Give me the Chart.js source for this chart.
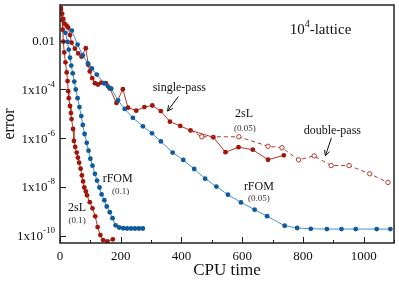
<!DOCTYPE html>
<html lang="en">
<head>
<meta charset="utf-8" />
<title>error vs CPU time</title>
<script src="https://cdn.jsdelivr.net/npm/chart.js"></script>
<style>
  body { margin: 0; background: #fff; }
  #chart { display: block; }
</style>
</head>
<body>
<canvas id="chart" width="399" height="282"></canvas>
<script>
// rFOM (0.1)
const rfomFastX = [18, 25, 29, 33, 37, 42, 47, 52, 58, 64, 70, 75, 81, 88, 94, 100, 107, 115, 122, 130, 137, 146, 154, 164, 173, 183, 195, 208, 221, 234, 247, 260, 273];
const rfomFastY = [2.1e-2, 9e-3, 4.3e-3, 2.0e-3, 9.5e-4, 4.6e-4, 2.1e-4, 1.0e-4, 4.4e-5, 1.9e-5, 8.1e-6, 3.5e-6, 1.5e-6, 6.5e-7, 3.1e-7, 1.45e-7, 7.5e-8, 3.5e-8, 1.85e-8, 9.6e-9, 5e-9, 2.9e-9, 1.6e-9, 9.3e-10, 5.3e-10, 2.7e-10, 2.2e-10, 2.05e-10, 2.0e-10, 2.0e-10, 2.0e-10, 2.0e-10, 2.0e-10];

// 2sL (0.1)
const tslFastX = [3, 7, 9, 11, 14, 18, 22, 25, 27, 29, 33, 36, 38, 43, 46, 50, 55, 59, 63, 68, 72, 76, 80, 85, 89, 98, 107, 116, 124, 133, 142, 156, 174];
const tslFastY = [0.18, 0.071, 0.028, 9.1e-3, 3.3e-3, 1.3e-3, 5.0e-4, 2.2e-4, 8.5e-5, 4.4e-5, 2.1e-5, 1.08e-5, 6.1e-6, 2.4e-6, 7.8e-7, 4.4e-7, 2.6e-7, 1.6e-7, 1.0e-7, 5.7e-8, 3.0e-8, 1.7e-8, 9.6e-9, 6.6e-9, 4.6e-9, 2.4e-9, 1.35e-9, 6.3e-10, 2.3e-10, 1.08e-10, 6.7e-11, 5.9e-11, 7.2e-11];

// rFOM (0.05)
const rfomSlowX = [39, 58, 75, 92, 105, 121, 145, 158, 169, 191, 213, 240, 273, 303, 332, 371, 406, 442, 478, 515, 553, 596, 641, 682, 740, 781, 826, 879, 927, 974, 1043, 1088];
const rfomSlowY = [0.026, 6.9e-3, 2.5e-3, 1.17e-3, 7.3e-4, 4.1e-4, 1.8e-4, 1.35e-4, 1.07e-4, 3.6e-5, 1.6e-5, 6.9e-6, 3.1e-6, 1.6e-6, 7.4e-7, 2.6e-7, 1.29e-7, 5.5e-8, 2.2e-8, 1.05e-8, 4.9e-9, 2.35e-9, 1.18e-9, 6.4e-10, 2.6e-10, 2.1e-10, 1.95e-10, 1.9e-10, 1.9e-10, 1.9e-10, 1.9e-10, 1.9e-10];

// 2sL (0.05), single-pass
const singleX = [3, 7, 11, 15, 22, 27, 33, 38, 49, 60, 71, 85, 93, 98, 106, 115, 125, 136, 151, 164, 186, 207, 224, 251, 278, 304, 332, 362, 396, 430, 505, 545, 588, 635, 685, 737];
const singleY = [0.22, 0.126, 0.078, 0.05, 0.041, 0.034, 0.017, 8.3e-3, 4.7e-3, 3.0e-3, 2.2e-3, 4.9e-3, 1.03e-3, 5.5e-4, 2.9e-4, 1.8e-4, 1.6e-4, 1.9e-4, 1.8e-4, 1.1e-4, 2.8e-5, 1.02e-4, 1.8e-5, 1.35e-5, 1.9e-5, 2.2e-5, 1.3e-5, 4.8e-6, 3.2e-6, 2.1e-6, 1.1e-6, 2.7e-7, 4.3e-7, 3.4e-7, 1.32e-7, 2.0e-7];

// 2sL (0.05), double-pass (starts from the last shared point)
const doubleX = [430, 467, 589, 685, 731, 786, 837, 893, 952, 1020, 1080];
const doubleY = [2.1e-6, 1.15e-6, 1.15e-6, 4.7e-7, 4.1e-7, 1.3e-7, 1.9e-7, 7.6e-8, 7.6e-8, 3.5e-8, 1.55e-8];

const xTicks = [0, 200, 400, 600, 800, 1000];
const xMinorTicks = [100, 300, 500, 700, 900, 1100];
const yTicks = [1e-2, 1e-4, 1e-6, 1e-8, 1e-10];
const yTickBase = ["0.01", "1x10", "1x10", "1x10", "1x10"];
const yTickExp = ["", "-4", "-6", "-8", "-10"];

const noteText = ["single-pass", "2sL", "(0.05)", "double-pass", "rFOM", "(0.05)", "rFOM", "(0.1)", "2sL", "(0.1)"];
const noteX = [393, 606, 609, 897, 655, 655, 190, 200, 56, 56];
const noteY = [1.2e-4, 9.8e-6, 2.4e-6, 2.0e-6, 1.05e-8, 3.5e-9, 2.2e-8, 6.6e-9, 1.35e-9, 4.4e-10];
const noteSize = [12, 12, 9, 12, 12, 9, 12, 9, 12, 9];

const arrowFromX = [390, 894];
const arrowFromY = [5.2e-5, 1.05e-6];
const arrowToX = [354, 874];
const arrowToY = [1.3e-5, 1.9e-7];

const SERIF = "'Liberation Serif', 'DejaVu Serif', serif";
const RED_PT = "#a0160a";
const RED_LN = "#b5372b";
const BLUE_PT = "#0e5a9e";
const BLUE_LN = "#4a8fcb";

function pts(xs, ys) {
  return xs.map((x, i) => ({ x: x, y: ys[i] }));
}

const decorPlugin = {
  id: "decor",
  afterDraw(chart) {
    const ctx = chart.ctx;
    const a = chart.chartArea;
    const xs = chart.scales.x;
    const ys = chart.scales.y;
    ctx.save();

    // frame
    ctx.strokeStyle = "#222";
    ctx.lineWidth = 1.5;
    ctx.strokeRect(a.left, a.top, a.right - a.left, a.bottom - a.top);

    // inward ticks
    ctx.lineWidth = 1;
    ctx.beginPath();
    xTicks.forEach((v) => {
      const px = Math.round(xs.getPixelForValue(v)) + 0.5;
      ctx.moveTo(px, a.bottom);
      ctx.lineTo(px, a.bottom - 6);
    });
    xMinorTicks.forEach((v) => {
      const px = Math.round(xs.getPixelForValue(v)) + 0.5;
      ctx.moveTo(px, a.bottom);
      ctx.lineTo(px, a.bottom - 3);
    });
    yTicks.forEach((v) => {
      const py = Math.round(ys.getPixelForValue(v)) + 0.5;
      ctx.moveTo(a.left, py);
      ctx.lineTo(a.left + 6, py);
    });
    ctx.stroke();

    // tick labels
    ctx.fillStyle = "#111";
    ctx.textBaseline = "middle";
    ctx.textAlign = "center";
    ctx.font = "13px " + SERIF;
    xTicks.forEach((v) => {
      ctx.fillText(String(v), xs.getPixelForValue(v), a.bottom + 14);
    });
    ctx.textAlign = "right";
    yTicks.forEach((v, i) => {
      const py = ys.getPixelForValue(v);
      let right = a.left - 5;
      if (yTickExp[i]) {
        ctx.font = "9px " + SERIF;
        ctx.fillText(yTickExp[i], right, py - 5);
        right -= ctx.measureText(yTickExp[i]).width;
      }
      ctx.font = "13px " + SERIF;
      ctx.fillText(yTickBase[i], right, py + 1);
    });

    // title inside the plot: 10^4-lattice
    const tx = xs.getPixelForValue(858);
    const ty = ys.getPixelForValue(0.028);
    ctx.textAlign = "left";
    ctx.font = "15px " + SERIF;
    const w1 = ctx.measureText("10").width;
    const w3 = ctx.measureText("-lattice").width;
    ctx.font = "10px " + SERIF;
    const w2 = ctx.measureText("4").width;
    let sx = tx - (w1 + w2 + w3) / 2;
    ctx.font = "15px " + SERIF;
    ctx.fillText("10", sx, ty);
    ctx.font = "10px " + SERIF;
    ctx.fillText("4", sx + w1, ty - 5);
    ctx.font = "15px " + SERIF;
    ctx.fillText("-lattice", sx + w1 + w2, ty);

    // curve labels
    ctx.textAlign = "center";
    noteText.forEach((t, i) => {
      ctx.font = noteSize[i] + "px " + SERIF;
      ctx.fillStyle = noteSize[i] < 10 ? "#333" : "#111";
      ctx.fillText(t, xs.getPixelForValue(noteX[i]), ys.getPixelForValue(noteY[i]));
    });

    // arrows
    ctx.strokeStyle = "#111";
    ctx.lineWidth = 1;
    arrowFromX.forEach((fx, i) => {
      const x0 = xs.getPixelForValue(fx);
      const y0 = ys.getPixelForValue(arrowFromY[i]);
      const x1 = xs.getPixelForValue(arrowToX[i]);
      const y1 = ys.getPixelForValue(arrowToY[i]);
      const ang = Math.atan2(y1 - y0, x1 - x0);
      ctx.beginPath();
      ctx.moveTo(x0, y0);
      ctx.lineTo(x1, y1);
      ctx.moveTo(x1 - 6 * Math.cos(ang - 0.45), y1 - 6 * Math.sin(ang - 0.45));
      ctx.lineTo(x1, y1);
      ctx.lineTo(x1 - 6 * Math.cos(ang + 0.45), y1 - 6 * Math.sin(ang + 0.45));
      ctx.stroke();
    });
    ctx.restore();
  }
};

new Chart(document.getElementById("chart"), {
  type: "line",
  data: {
    datasets: [
      {
        data: pts(doubleX, doubleY),
        borderColor: RED_LN,
        borderWidth: 1,
        borderDash: [4, 3],
        pointRadius: doubleX.map((x, i) => (i === 0 ? 0 : 2.2)),
        pointBackgroundColor: "#fff",
        pointBorderColor: RED_LN,
        pointBorderWidth: 1
      },
      {
        data: pts(rfomSlowX, rfomSlowY),
        borderColor: BLUE_LN,
        borderWidth: 1,
        pointRadius: 2.4,
        pointBackgroundColor: BLUE_PT,
        pointBorderWidth: 0
      },
      {
        data: pts(rfomFastX, rfomFastY),
        borderColor: BLUE_LN,
        borderWidth: 1,
        pointRadius: 2.4,
        pointBackgroundColor: BLUE_PT,
        pointBorderWidth: 0
      },
      {
        data: pts(singleX, singleY),
        borderColor: RED_LN,
        borderWidth: 1,
        pointRadius: 2.4,
        pointBackgroundColor: RED_PT,
        pointBorderWidth: 0
      },
      {
        data: pts(tslFastX, tslFastY),
        borderColor: RED_LN,
        borderWidth: 1,
        pointRadius: 2.4,
        pointBackgroundColor: RED_PT,
        pointBorderWidth: 0
      }
    ]
  },
  options: {
    responsive: false,
    animation: false,
    devicePixelRatio: 1,
    layout: { padding: { top: 3, right: 3, left: 0, bottom: 0 } },
    plugins: { legend: { display: false }, tooltip: { enabled: false } },
    elements: { line: { tension: 0 } },
    scales: {
      x: {
        type: "linear",
        min: 0,
        max: 1100,
        grid: { display: false },
        border: { display: false },
        ticks: { display: false },
        title: {
          display: true,
          text: "CPU time",
          color: "#111",
          font: { family: SERIF, size: 17 },
          padding: { top: 0, bottom: 1 }
        },
        afterFit(scale) { scale.height = 39; }
      },
      y: {
        type: "logarithmic",
        min: 5.1e-11,
        max: 0.29,
        grid: { display: false },
        border: { display: false },
        ticks: { display: false },
        title: {
          display: true,
          text: "error",
          color: "#111",
          font: { family: SERIF, size: 16 },
          padding: { top: 0, bottom: 0 }
        },
        afterFit(scale) { scale.width = 60; }
      }
    }
  },
  plugins: [decorPlugin]
});
</script>
</body>
</html>
